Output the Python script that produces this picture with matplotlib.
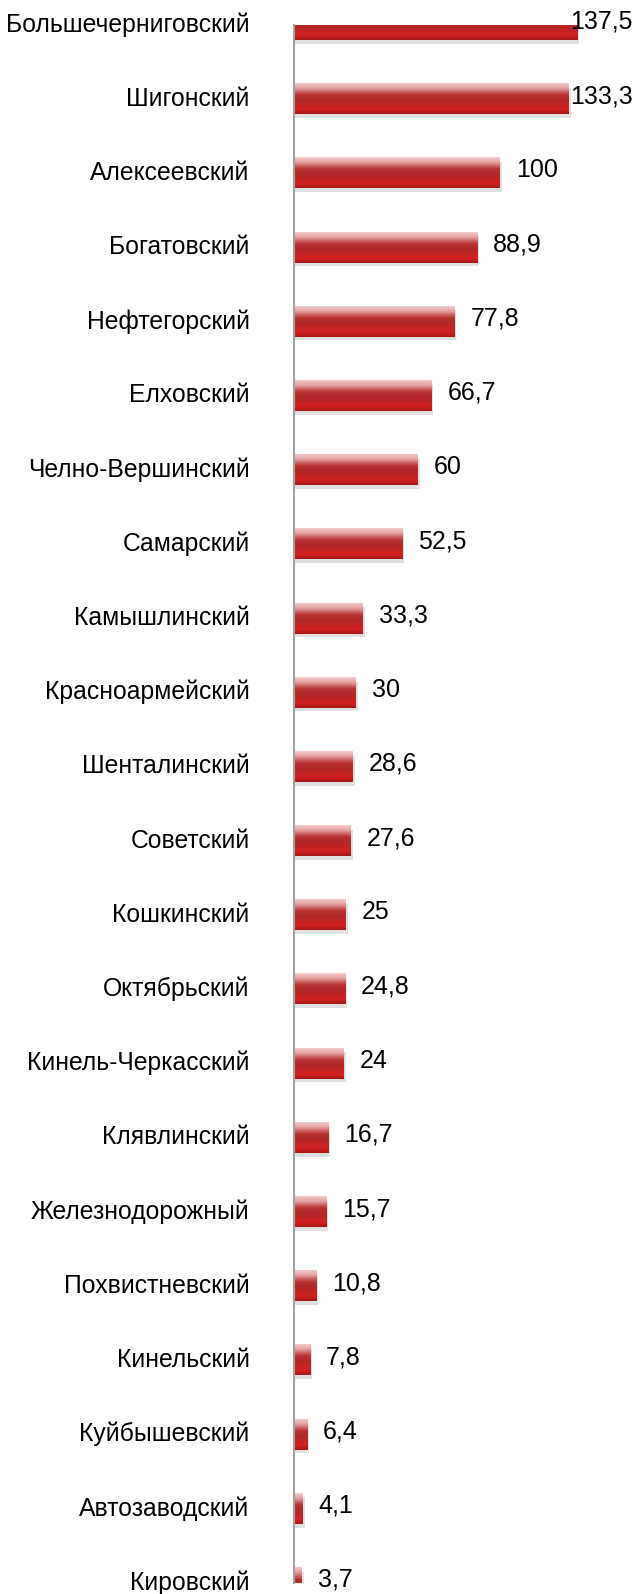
import matplotlib.pyplot as plt
import matplotlib.transforms as mtransforms
import numpy as np
from matplotlib.colors import LinearSegmentedColormap

# районы и значения
districts = ['Большечерниговский', 'Шигонский', 'Алексеевский', 'Богатовский',
             'Нефтегорский', 'Елховский', 'Челно-Вершинский', 'Самарский',
             'Камышлинский', 'Красноармейский', 'Шенталинский', 'Советский',
             'Кошкинский', 'Октябрьский', 'Кинель-Черкасский', 'Клявлинский',
             'Железнодорожный', 'Похвистневский', 'Кинельский', 'Куйбышевский',
             'Автозаводский', 'Кировский']
values = [137.5, 133.3, 100, 88.9, 77.8, 66.7, 60, 52.5, 33.3, 30, 28.6, 27.6,
          25, 24.8, 24, 16.7, 15.7, 10.8, 7.8, 6.4, 4.1, 3.7]
value_labels = ['137,5', '133,3', '100', '88,9', '77,8', '66,7', '60', '52,5',
                '33,3', '30', '28,6', '27,6', '25', '24,8', '24', '16,7', '15,7',
                '10,8', '7,8', '6,4', '4,1', '3,7']

W, H = 633, 1594
fig = plt.figure(figsize=(W / 100, H / 100), dpi=100)
x0, x1 = 294, 633
y_top, y_bot = 25, 1583
ax = fig.add_axes([x0 / W, (H - y_bot) / H, (x1 - x0) / W, (y_bot - y_top) / H])

px_per_unit = 2.06
y = np.arange(len(values))
bh = 0.405
bars = ax.barh(y, values, height=bh, color='#c42424', edgecolor='none', zorder=3)

# "стеклянный" градиент как в Excel
cmap = LinearSegmentedColormap.from_list('glass', [
    (0.0, '#f4caca'), (0.15, '#e6a4a4'), (0.38, '#b83232'),
    (0.55, '#b02828'), (0.85, '#d42020'), (1.0, '#a41818')])
grad = np.linspace(0, 1, 64).reshape(-1, 1)
for b, v, yi in zip(bars, values, y):
    # тень
    ax.barh(yi + 0.05, v + 0.6, height=bh, left=0.4, color='#000000',
            alpha=0.12, edgecolor='none', zorder=2)
    im = ax.imshow(grad, cmap=cmap, aspect='auto', origin='upper',
                   extent=(0, v, yi + bh / 2, yi - bh / 2), zorder=4,
                   interpolation='bilinear')
    im.set_clip_path(b)
    im.set_clip_box(ax.bbox)

ax.set_xlim(0, (x1 - x0) / px_per_unit)
ax.set_ylim(len(values) - 1, 0)

up = mtransforms.ScaledTranslation(0, 3 / 100, fig.dpi_scale_trans)

off = 16 / px_per_unit
cap = (570 - x0) / px_per_unit
for v, lab, yi in zip(values, value_labels, y):
    t = ax.text(min(v + off, cap), yi, lab, va='center', ha='left',
                fontsize=18, family='Liberation Sans', zorder=5)
    t.set_transform(t.get_transform() + up)

ax.set_yticks(y)
ax.set_yticklabels(districts, fontsize=17.8, family='Liberation Sans')
ax.tick_params(axis='y', length=0, pad=32)
for lbl in ax.get_yticklabels():
    lbl.set_transform(lbl.get_transform() + up)
ax.set_xticks([])
for s in ['top', 'right', 'bottom']:
    ax.spines[s].set_visible(False)
ax.spines['left'].set_color('#a0a0a0')
ax.spines['left'].set_linewidth(1.5)
ax.spines['left'].set_zorder(6)

fig.savefig('out.png', dpi=100)
